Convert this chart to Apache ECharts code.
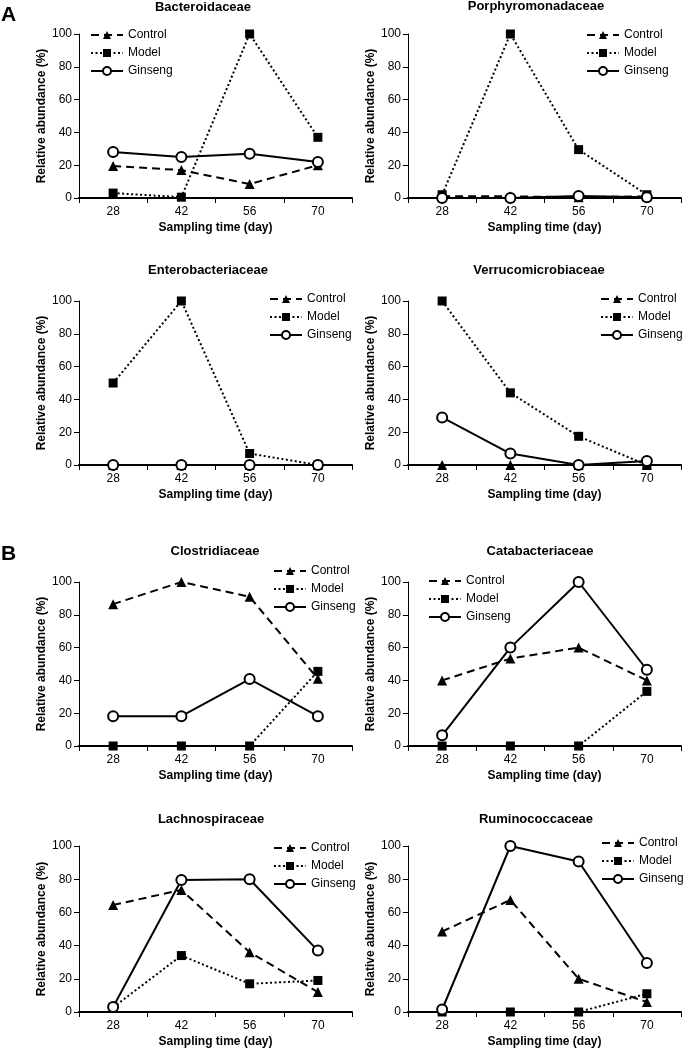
<!DOCTYPE html>
<html>
<head>
<meta charset="utf-8">
<script src="https://cdn.jsdelivr.net/npm/echarts@6/dist/echarts.min.js"></script>
<style>
html,body{margin:0;padding:0;background:#fff;}
#chart{width:685px;height:1050px;}
</style>
</head>
<body>
<div id="chart"></div>
<script>
// ---- data ----
const days = ['28', '42', '56', '70'];
const families = ['Bacteroidaceae', 'Porphyromonadaceae', 'Enterobacteriaceae', 'Verrucomicrobiaceae',
                  'Clostridiaceae', 'Catabacteriaceae', 'Lachnospiraceae', 'Ruminococcaceae'];
const seriesNames = ['Control', 'Model', 'Ginseng'];
const yTicks = [0, 20, 40, 60, 80, 100];
const controlData = [
  [19.5, 17, 8.5, 20],
  [1, 1, 0.5, 1],
  [0, 0, 0, 0],
  [0, 0, 0, 0],
  [86.5, 100, 91, 41],
  [40, 53.3, 60, 40],
  [64.5, 73.5, 36, 12],
  [48.5, 67.5, 20, 6]
];
const modelData = [
  [3, 0.5, 100, 37],
  [2, 100, 29.5, 2],
  [50, 100, 7, 0],
  [100, 44, 17.5, 0],
  [0, 0, 0, 45.5],
  [0, 0, 0, 33.3],
  [2.8, 34, 17, 19],
  [0, 0, 0, 11]
];
const ginsengData = [
  [28, 25, 27, 22],
  [0, 0, 1.2, 0.5],
  [0, 0, 0, 0],
  [29, 7, 0, 2.5],
  [18.2, 18.2, 40.8, 18.2],
  [6.5, 60, 100, 46.5],
  [3, 79.5, 80, 37],
  [1.5, 100, 90.7, 29.5]
];

// ---- layout ----
const FONT = 'Liberation Sans, Arial, sans-serif';
const colLeft = [79, 408];
const gridWidth = 273;
const rowTop = [34, 301, 582, 846];
const rowHeight = [164, 164, 164, 166];
const titlePos = [[203, 9], [536, 8], [208, 272], [539, 272], [215, 553], [540, 553], [211, 821], [536, 821]];
const legendPos = [[90, 35], [586, 35], [269, 299], [600, 299], [273, 571], [428, 581], [273, 848], [601, 843]];

const lineStyles = [
  { type: [8, 5], width: 2 },
  { type: [2, 2.5], width: 2 },
  { type: 'solid', width: 2 }
];
const symbols = ['triangle', 'rect', 'emptyCircle'];
const symbolSizes = [10, 9, 10];
const allData = [controlData, modelData, ginsengData];

const grid = [], xAxis = [], yAxis = [], series = [], title = [], legend = [];
families.forEach((fam, i) => {
  const col = i % 2, row = Math.floor(i / 2);
  grid.push({ left: colLeft[col], top: rowTop[row], width: gridWidth, height: rowHeight[row] });
  xAxis.push({
    type: 'category', gridIndex: i, data: days, boundaryGap: true,
    name: 'Sampling time (day)', nameLocation: 'middle', nameGap: 24,
    nameTextStyle: { fontFamily: FONT, fontSize: 12, fontWeight: 'bold', color: '#000' },
    axisLine: { lineStyle: { color: '#000', width: 2 } },
    axisTick: { show: true, length: 5, lineStyle: { color: '#000', width: 1 } },
    axisLabel: { fontFamily: FONT, fontSize: 12, color: '#000', margin: 8 },
    splitLine: { show: false }
  });
  yAxis.push({
    type: 'value', gridIndex: i, min: 0, max: 100, interval: 20,
    name: 'Relative abundance (%)', nameLocation: 'middle', nameGap: 31,
    nameTextStyle: { fontFamily: FONT, fontSize: 12, fontWeight: 'bold', color: '#000' },
    axisLine: { show: true, lineStyle: { color: '#000', width: 1 } },
    axisTick: { show: true, length: 5, lineStyle: { color: '#000', width: 1 } },
    axisLabel: { fontFamily: FONT, fontSize: 12, color: '#000', margin: 7 },
    splitLine: { show: false }
  });
  title.push({
    text: fam, left: titlePos[i][0], top: titlePos[i][1] - 8, textAlign: 'center', padding: 0,
    textStyle: { fontFamily: FONT, fontSize: 13, fontWeight: 'bold', color: '#000' }
  });
  legend.push({
    data: seriesNames, orient: 'vertical', left: legendPos[i][0], top: legendPos[i][1] - 7,
    padding: 0, itemGap: 4, itemWidth: 32, itemHeight: 10, selectedMode: false,
    textStyle: { fontFamily: FONT, fontSize: 12, color: '#000', lineHeight: 14 }
  });
  seriesNames.forEach((nm, s) => {
    series.push({
      name: nm, type: 'line', xAxisIndex: i, yAxisIndex: i,
      data: allData[s][i],
      symbol: symbols[s], symbolSize: symbolSizes[s],
      showAllSymbol: true,
      clip: false,
      lineStyle: { color: '#000', width: lineStyles[s].width, type: lineStyles[s].type },
      itemStyle: { color: '#000', borderColor: '#000', borderWidth: s === 2 ? 1.5 : 0 },
      emphasis: { disabled: true },
      animation: false
    });
  });
});

const chart = echarts.init(document.getElementById('chart'), null, { renderer: 'canvas' });
chart.setOption({
  backgroundColor: '#fff',
  animation: false,
  title, grid, xAxis, yAxis, legend, series,
  graphic: [
    { type: 'text', left: 1, top: 5, style: { text: 'A', font: 'bold 21px ' + FONT, fill: '#000' } },
    { type: 'text', left: 1, top: 544, style: { text: 'B', font: 'bold 21px ' + FONT, fill: '#000' } }
  ]
});
</script>
</body>
</html>
